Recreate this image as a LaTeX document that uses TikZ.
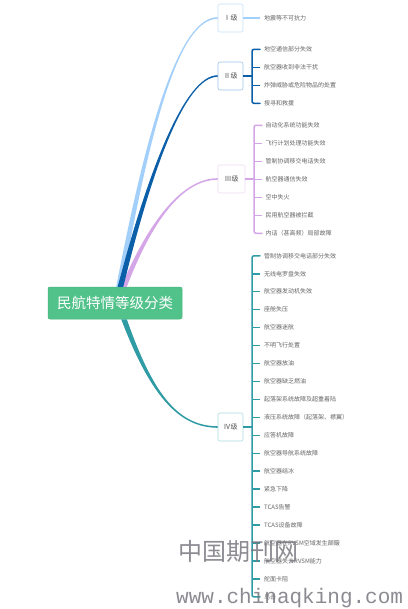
\documentclass[tikz,border=0pt]{standalone}
\usepackage{fontspec}
\newfontfamily\cjk{Noto Sans CJK SC}
\newfontfamily\wmmono{Liberation Mono}
\usetikzlibrary{calc}
\definecolor{cI}{HTML}{A3CFFB}
\definecolor{cII}{HTML}{0B5FA8}
\definecolor{cIII}{HTML}{D4A6E8}
\definecolor{cIV}{HTML}{2E9BA5}
\definecolor{bI}{HTML}{C6E1FB}
\definecolor{bII}{HTML}{9CC3E6}
\definecolor{bIII}{HTML}{EEDCF6}
\definecolor{bIV}{HTML}{A9DCE1}
\definecolor{rootc}{HTML}{52C28B}
\definecolor{rootd}{HTML}{48B37E}
\definecolor{leaf}{HTML}{666666}
\definecolor{lvltext}{HTML}{555555}
\definecolor{wm}{HTML}{77777F}
% tapered branch: color, start, c1, c2, end, half-width, end offset 1, end offset 2
\newcommand\tbranch[8]{%
  \fill[#1] ($(#2)+(-#6,0)$) .. controls ($(#3)+(-#6*0.6,0)$) and ($(#4)+(#7)$) .. ($(#5)+(#7)$)
    -- ($(#5)+(#8)$) .. controls ($(#4)+(#8)$) and ($(#3)+(#6*0.6,0)$) .. ($(#2)+(#6,0)$) -- cycle;}
\begin{document}
\begin{tikzpicture}[x=1pt,y=-1pt,
  txt/.style={font=\cjk\fontsize{6}{7}\selectfont, text=leaf, anchor=west, inner sep=0pt},
  lvl/.style={draw=#1, fill=white, rounded corners=2pt, line width=0.6pt,
    minimum width=25pt, minimum height=28pt, inner sep=0pt,
    font=\cjk\fontsize{7}{8}\selectfont, text=lvltext},
  brk/.style={line width=1.5pt, rounded corners=2pt, line cap=round}
  ]
\useasboundingbox (0,0) rectangle (407,609);
\fill[white] (0,0) rectangle (407,609);

% root and level boxes
\node[fill=rootc, draw=rootd, rounded corners=2pt, line width=0.5pt,
  minimum width=134pt, minimum height=32pt, inner sep=0pt, text=white,
  font=\cjk\fontsize{14.5}{16}\selectfont] (root) at (115,303) {民航特情等级分类};
\node[lvl=bI] (l1) at (230.5,18) {Ⅰ级};
\node[lvl=bII] (l2) at (230.5,76) {Ⅱ级};
\node[lvl=bIII, minimum width=27pt] (l3) at (231.5,179) {Ⅲ级};
\node[lvl=bIV] (l4) at (230.5,427) {Ⅳ级};

% branch coordinates
\coordinate (s1) at ($(root.north)+(4,0)$);
\coordinate (s2) at ($(root.north)+(5.5,0)$);
\coordinate (s3) at ($(root.north)+(9,0)$);
\coordinate (s4) at ($(root.south)+(9,0)$);
\coordinate (k1a) at (150,120); \coordinate (k1b) at (180,18);
\coordinate (k2a) at (150,170); \coordinate (k2b) at (185,76);
\coordinate (k3a) at (150,222); \coordinate (k3b) at (182,179);
\coordinate (k4a) at (150,390); \coordinate (k4b) at (176,427);

\tbranch{cIV}{s4}{k4a}{k4b}{l4.west}{2.8}{0,0.8}{0,-0.8}
\tbranch{cIII}{s3}{k3a}{k3b}{l3.west}{2.8}{0,-0.8}{0,0.8}
\tbranch{cI}{s1}{k1a}{k1b}{l1.west}{2.8}{0,-0.8}{0,0.8}
\tbranch{cII}{s2}{k2a}{k2b}{l2.west}{2.8}{0,-0.8}{0,0.8}

% level I
\node[txt] (a1) at (264,18) {地震等不可抗力};
\draw[cI, line width=1.5pt] (l1.east) -- ($(a1.west)+(-4,0)$);

% level II
\foreach \t [count=\i] in {地空通信部分失效, 航空器收到非法干扰, 炸弹威胁或危险物品的处置, 搜寻和救援}
  \node[txt] (b\i) at (264,{49.3+(\i-1)*18}) {\t};
\coordinate (v2) at (252,76);
\draw[cII, line width=1.5pt] (l2.east) -- (v2);
\draw[cII, brk] ($(b1.west)+(-4,0)$) -- (b1.west -| v2) -- (b4.west -| v2) -- ($(b4.west)+(-4,0)$);
\foreach \i in {2,3} \draw[cII, line width=1.5pt] (b\i.west -| v2) -- ($(b\i.west)+(-4,0)$);

% level III
\foreach \t [count=\i] in {自动化系统功能失效, 飞行计划处理功能失效, 管制协调移交电话失效, 航空器通信失效, 空中失火, 民用航空器被拦截, 内话（甚高频）局部故障}
  \node[txt] (c\i) at (265.5,{125.3+(\i-1)*18}) {\t};
\coordinate (v3) at (254,179);
\draw[cIII, line width=1.5pt] (l3.east) -- (v3);
\draw[cIII, brk] ($(c1.west)+(-3.5,0)$) -- (c1.west -| v3) -- (c7.west -| v3) -- ($(c7.west)+(-3.5,0)$);
\foreach \i in {2,...,6} \draw[cIII, line width=1.5pt] (c\i.west -| v3) -- ($(c\i.west)+(-3.5,0)$);

% level IV
\foreach \t [count=\i] in {管制协调移交电话部分失效, 无线电罗盘失效, 航空器发动机失效, 座舱失压, 航空器迷航, 不明飞行处置, 航空器放油, 航空器缺乏燃油, 起落架系统故障及超重着陆, 液压系统故障（起落架、襟翼）, 应答机故障, 航空器导航系统故障, 航空器结冰, 紧急下降, TCAS告警, TCAS设备故障, 航空器在RVSM空域发生颠簸, 航空器失去RVSM能力, 舵面卡阻, 鸟击}
  \node[txt] (d\i) at (264,{255.8+(\i-1)*17.95}) {\t};
\coordinate (v4) at (252,427);
\draw[cIV, line width=1.5pt] (l4.east) -- (v4);
\draw[cIV, brk] ($(d1.west)+(-4,0)$) -- (d1.west -| v4) -- (d20.west -| v4) -- ($(d20.west)+(-4,0)$);
\foreach \i in {2,...,19} \draw[cIV, line width=1.5pt] (d\i.west -| v4) -- ($(d\i.west)+(-4,0)$);

% watermark
\node[anchor=west, inner sep=0pt, text=wm, opacity=0.85, font=\cjk\fontsize{24}{26}\selectfont] (w1) at (178,551) {中国期刊网};
\node[anchor=west, inner sep=0pt, text=wm, opacity=0.85, font=\wmmono\fontsize{21}{23}\selectfont] (w2) at (176,598) {www.chinaqking.com};
\end{tikzpicture}
\end{document}
